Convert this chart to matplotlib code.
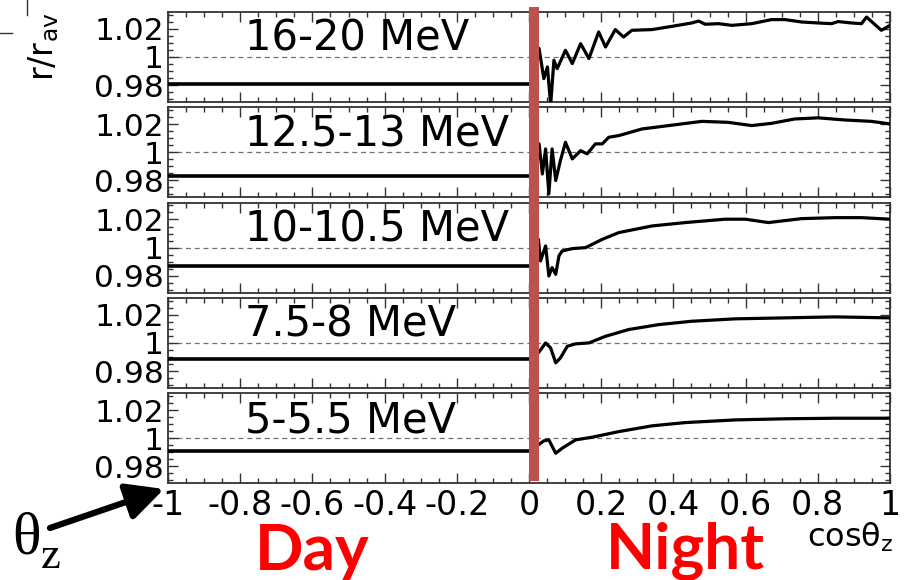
import matplotlib
matplotlib.use("Agg")
import matplotlib.pyplot as plt
from matplotlib.lines import Line2D
from matplotlib.patches import FancyArrowPatch
from matplotlib.ticker import FixedLocator, MultipleLocator, FuncFormatter

plt.rcParams['axes.unicode_minus'] = False
plt.rcParams['font.family'] = ['DejaVu Sans']

# ---------------- data ----------------
panel_labels = ["16-20 MeV", "12.5-13 MeV", "10-10.5 MeV", "7.5-8 MeV", "5-5.5 MeV"]
day_levels = [0.9811, 0.9834, 0.9868, 0.9886, 0.9912]

night_cos_1 = [0.010, 0.028, 0.041, 0.051, 0.060, 0.069, 0.078, 0.101, 0.120, 0.143, 0.166, 0.193,
               0.212, 0.239, 0.262, 0.285, 0.341, 0.396, 0.451, 0.470, 0.488, 0.525, 0.562,
               0.617, 0.672, 0.709, 0.755, 0.801, 0.838, 0.856, 0.893, 0.921, 0.935, 0.976, 1.0]
night_r_1 = [1.008, 1.006, 0.9846, 0.9929, 0.966, 0.9977, 0.9917, 1.0048, 0.9953, 1.0095, 0.9989, 1.0178,
             1.0071, 1.0195, 1.0142, 1.019, 1.0195, 1.0218, 1.0242, 1.0256, 1.0233, 1.0237, 1.0225,
             1.0237, 1.0266, 1.0266, 1.0249, 1.0242, 1.0237, 1.0252, 1.0242, 1.0237, 1.0284, 1.019, 1.0225]

night_cos_2 = [0.010, 0.028, 0.037, 0.046, 0.055, 0.064, 0.074, 0.087, 0.101, 0.120, 0.143, 0.161,
               0.184, 0.203, 0.221, 0.249, 0.313, 0.387, 0.479, 0.552, 0.617, 0.672, 0.736,
               0.801, 0.874, 0.948, 1.0]
night_r_2 = [1.008, 1.006, 0.9846, 1.0024, 0.9704, 1.0024, 0.9799, 0.9941, 1.0071, 0.9953, 1.0012, 0.9989,
             1.006, 1.006, 1.0107, 1.0119, 1.0166, 1.019, 1.022, 1.0213, 1.019, 1.0206, 1.0237,
             1.0245, 1.023, 1.022, 1.0202]

night_cos_3 = [0.010, 0.026, 0.032, 0.046, 0.055, 0.064, 0.074, 0.083, 0.092, 0.120, 0.157, 0.203,
               0.249, 0.341, 0.433, 0.543, 0.599, 0.663, 0.755, 0.847, 0.921, 1.0]
night_r_3 = [1.007, 1.0059, 0.9905, 1.0012, 0.9798, 0.9858, 0.981, 0.9941, 0.9976, 0.9993, 1.0, 1.0059,
             1.0107, 1.0154, 1.0178, 1.0202, 1.0202, 1.0178, 1.0206, 1.0213, 1.0213, 1.0202]

night_cos_4 = [0.010, 0.026, 0.046, 0.060, 0.074, 0.087, 0.106, 0.129, 0.166, 0.212, 0.276, 0.359,
               0.451, 0.571, 0.709, 0.847, 1.0]
night_r_4 = [0.9935, 0.9929, 1.0, 0.9964, 0.9858, 0.9893, 0.9976, 0.9993, 1.0, 1.0047, 1.0095, 1.013,
             1.0154, 1.0171, 1.0178, 1.0185, 1.0178]

night_cos_5 = [0.010, 0.026, 0.041, 0.055, 0.074, 0.092, 0.129, 0.175, 0.249, 0.341, 0.433, 0.571,
               0.709, 0.847, 1.0]
night_r_5 = [0.9953, 0.9953, 0.9981, 0.9988, 0.9893, 0.9929, 0.9988, 1.0007, 1.0047, 1.0088, 1.0111, 1.013,
             1.0138, 1.0142, 1.0142]

night_cos = [night_cos_1, night_cos_2, night_cos_3, night_cos_4, night_cos_5]
night_r = [night_r_1, night_r_2, night_r_3, night_r_4, night_r_5]

x_ticks = [-1, -0.8, -0.6, -0.4, -0.2, 0, 0.2, 0.4, 0.6, 0.8, 1]
y_ticks = [0.98, 1.0, 1.02]

# ---------------- figure ----------------
W, H = 910, 580
fig = plt.figure(figsize=(W / 100, H / 100), dpi=100)

left_px, right_px = 168, 890
panel_h = 90
panel_tops = [12 + i * 95.3 for i in range(5)]

def fmt(v, pos):
    return "%g" % v

for i, top in enumerate(panel_tops):
    ax = fig.add_axes([left_px / W, 1 - (top + panel_h) / H, (right_px - left_px) / W, panel_h / H])
    ax.set_xlim(-1, 1)
    ax.set_ylim(0.968, 1.032)
    ax.axhline(1.0, color='#707070', lw=0.9, ls=(0, (4, 3)), zorder=1)
    ax.plot([-1, 0], [day_levels[i], day_levels[i]], color='black', lw=2.6,
            solid_capstyle='butt', zorder=3)
    ax.plot(night_cos[i], night_r[i], color='black', lw=2.3, zorder=3, solid_joinstyle='round')
    ax.text((245 - left_px) / (right_px - left_px), 0.567, panel_labels[i], transform=ax.transAxes,
            fontsize=30, ha='left', va='baseline', color='black')

    ax.xaxis.set_major_locator(FixedLocator(x_ticks))
    ax.xaxis.set_minor_locator(MultipleLocator(0.05))
    ax.yaxis.set_major_locator(FixedLocator(y_ticks))
    ax.yaxis.set_minor_locator(MultipleLocator(0.005))
    ax.xaxis.set_major_formatter(FuncFormatter(fmt))
    ax.yaxis.set_major_formatter(FuncFormatter(fmt))
    ax.tick_params(which='both', direction='in', top=True, right=True, color='#333333', width=1)
    ax.tick_params(which='major', length=7)
    ax.tick_params(which='minor', length=3.5)
    ax.tick_params(axis='y', labelsize=22.5, pad=3)
    ax.tick_params(axis='x', labelsize=24, pad=4, labelbottom=(i == 4))
    for s in ax.spines.values():
        s.set_linewidth(1.3)
        s.set_color('#333333')

# red day/night divider
fig.add_artist(Line2D([534 / W, 534 / W], [1 - 7 / H, 1 - 481 / H], transform=fig.transFigure,
                      color='#C0504D', lw=7.2, solid_capstyle='butt', zorder=10))

# y label
fig.text(44 / W, 1 - 13 / H, r'r/r$_{\rm av}$', rotation=90, ha='center', va='top',
         fontsize=24, math_fontfamily='dejavusans')

# x label
fig.text(893 / W, 1 - 547 / H, r'cosθ$_{\rm z}$', ha='right', va='baseline',
         fontsize=23, math_fontfamily='dejavusans')

# Day / Night labels
fig.text(255 / W, 1 - 570 / H, 'Day', color='red', fontsize=46, fontweight='bold',
         family=['Lato', 'DejaVu Sans'], ha='left', va='baseline')
fig.text(606 / W, 1 - 568 / H, 'Night', color='red', fontsize=46, fontweight='bold',
         family=['Lato', 'DejaVu Sans'], ha='left', va='baseline')

# theta_z annotation with arrow
fig.text(12 / W, 1 - 553 / H, 'θ', fontsize=43, family=['Liberation Serif', 'DejaVu Serif'],
         ha='left', va='baseline')
fig.text(41 / W, 1 - 568 / H, 'z', fontsize=32, family=['Liberation Serif', 'DejaVu Serif'],
         ha='left', va='baseline')
fig.add_artist(FancyArrowPatch((50 / W, 1 - 528 / H), (164 / W, 1 - 489 / H),
               transform=fig.transFigure, arrowstyle='-|>,head_length=0.9,head_width=0.45',
               mutation_scale=25, lw=4.5, color='black', shrinkA=0, shrinkB=0))

# small stray marks at top-left
fig.add_artist(Line2D([0, 12 / W], [1 - 33 / H, 1 - 33 / H], transform=fig.transFigure,
                      color='#333333', lw=1))
fig.add_artist(Line2D([27 / W, 27 / W], [1, 1 - 15 / H], transform=fig.transFigure,
                      color='#333333', lw=1))

fig.savefig('out.png', dpi=100)
